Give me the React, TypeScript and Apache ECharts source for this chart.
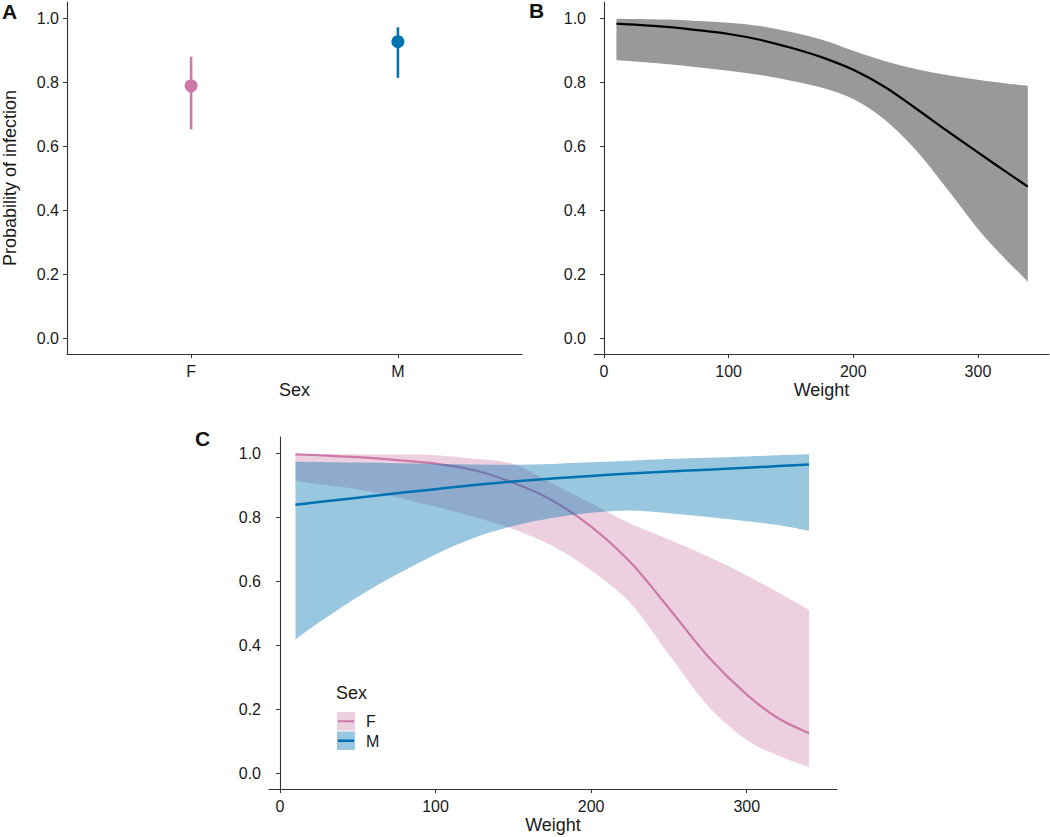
import React, { useEffect, useRef } from "react";
import * as echarts from "echarts";

// ---------- data ----------
const SEX = ["F", "M"];
const SEX_COLORS = ["#CC79A7", "#0072B2"];
const SEX_FILLS = ["rgba(204,121,167,0.35)", "rgba(0,114,178,0.4)"];

// Panel A: predicted probability by sex with 95% interval
const probA = [0.788, 0.926];
const lowA = [0.652, 0.813];
const highA = [0.879, 0.971];

// Shared weight grid for the fitted curves
const weights = [10, 25, 50, 75, 100, 125, 150, 175, 200, 225, 250, 275, 300, 320, 340];

// Panel B: overall fit
const bFit = [0.982, 0.979, 0.972, 0.962, 0.95, 0.932, 0.907, 0.877, 0.838, 0.785, 0.718, 0.648, 0.58, 0.526, 0.473];
const bUpper = [0.998, 0.997, 0.995, 0.991, 0.985, 0.975, 0.956, 0.932, 0.898, 0.866, 0.841, 0.822, 0.807, 0.797, 0.788];
const bLower = [0.868, 0.864, 0.856, 0.846, 0.835, 0.822, 0.804, 0.782, 0.747, 0.683, 0.588, 0.467, 0.341, 0.255, 0.176];

// Panel C: fit by sex
const fFit = [0.996, 0.993, 0.987, 0.978, 0.967, 0.946, 0.907, 0.852, 0.77, 0.66, 0.515, 0.365, 0.245, 0.172, 0.124];
const fUpper = [0.997, 0.997, 0.996, 0.995, 0.993, 0.982, 0.966, 0.905, 0.843, 0.78, 0.73, 0.677, 0.617, 0.565, 0.51];
const fLower = [0.913, 0.902, 0.886, 0.862, 0.832, 0.8, 0.762, 0.71, 0.633, 0.532, 0.37, 0.21, 0.103, 0.055, 0.018];
const mFit = [0.838, 0.847, 0.86, 0.874, 0.887, 0.9, 0.911, 0.92, 0.928, 0.936, 0.942, 0.948, 0.954, 0.959, 0.964];
const mUpper = [0.973, 0.972, 0.97, 0.968, 0.966, 0.964, 0.963, 0.966, 0.971, 0.976, 0.981, 0.985, 0.989, 0.993, 0.996];
const mLower = [0.417, 0.47, 0.55, 0.62, 0.683, 0.735, 0.772, 0.797, 0.813, 0.82, 0.812, 0.8, 0.787, 0.775, 0.757];

const yTicks = [0, 0.2, 0.4, 0.6, 0.8, 1.0];
const weightTicks = [0, 100, 200, 300];
const sexTicks = [1, 2];

// ---------- helpers ----------
const FONT = "Liberation Sans, Arial, Helvetica, sans-serif";
const AXIS_COLOR = "#333";
const TEXT_COLOR = "#1a1a1a";

function yAxisCfg(gridIndex: number, name?: string) {
  return {
    type: "value",
    gridIndex,
    min: -0.05,
    max: 1.05,
    name: name || "",
    nameLocation: "middle",
    nameGap: 48,
    nameRotate: 90,
    nameTextStyle: { fontSize: 18, color: TEXT_COLOR, fontFamily: FONT },
    axisLine: { show: true, lineStyle: { color: AXIS_COLOR, width: 1.1 } },
    axisTick: { show: true, length: 4, customValues: yTicks, lineStyle: { color: AXIS_COLOR } },
    axisLabel: {
      customValues: yTicks,
      margin: 8,
      fontSize: 16,
      color: TEXT_COLOR,
      fontFamily: FONT,
      formatter: (v: number) => v.toFixed(1),
    },
    splitLine: { show: false },
  };
}

function xAxisCfg(gridIndex: number, min: number, max: number, ticks: number[], name: string, fmt: (v: number) => string) {
  return {
    type: "value",
    gridIndex,
    min,
    max,
    name,
    nameLocation: "middle",
    nameGap: 27,
    nameTextStyle: { fontSize: 18, color: TEXT_COLOR, fontFamily: FONT },
    axisLine: { show: true, onZero: false, lineStyle: { color: AXIS_COLOR, width: 1.1 } },
    axisTick: { show: true, length: 4, customValues: ticks, lineStyle: { color: AXIS_COLOR } },
    axisLabel: {
      customValues: ticks,
      margin: 9,
      fontSize: 16,
      color: TEXT_COLOR,
      fontFamily: FONT,
      formatter: fmt,
    },
    splitLine: { show: false },
  };
}

// Catmull-Rom -> cubic Bezier segments through pixel points (after the start point)
function curveThrough(pts: number[][]): string {
  let d = "";
  const n = pts.length;
  for (let i = 0; i < n - 1; i++) {
    const p0 = pts[Math.max(i - 1, 0)];
    const p1 = pts[i];
    const p2 = pts[i + 1];
    const p3 = pts[Math.min(i + 2, n - 1)];
    const c1x = p1[0] + (p2[0] - p0[0]) / 6;
    const c1y = p1[1] + (p2[1] - p0[1]) / 6;
    const c2x = p2[0] - (p3[0] - p1[0]) / 6;
    const c2y = p2[1] - (p3[1] - p1[1]) / 6;
    d += ` C${c1x.toFixed(2)},${c1y.toFixed(2)} ${c2x.toFixed(2)},${c2y.toFixed(2)} ${p2[0].toFixed(2)},${p2[1].toFixed(2)}`;
  }
  return d;
}

function bandSeries(axisIndex: number, lower: number[], upper: number[], fill: string) {
  return {
    type: "custom",
    xAxisIndex: axisIndex,
    yAxisIndex: axisIndex,
    silent: true,
    clip: true,
    data: weights.map((w, i) => [w, lower[i], upper[i]]),
    encode: { x: 0, y: [1, 2] },
    renderItem: (params: any, api: any) => {
      if (params.dataIndex !== 0) return null;
      const up = weights.map((w, i) => api.coord([w, upper[i]]));
      const lo = weights.map((w, i) => api.coord([w, lower[i]])).reverse();
      const d =
        `M${up[0][0]},${up[0][1]}` +
        curveThrough(up) +
        ` L${lo[0][0]},${lo[0][1]}` +
        curveThrough(lo) +
        " Z";
      return { type: "path", shape: { pathData: d }, style: { fill, stroke: null } };
    },
  };
}

function fitSeries(axisIndex: number, values: number[], color: string, width: number) {
  return {
    type: "custom",
    xAxisIndex: axisIndex,
    yAxisIndex: axisIndex,
    silent: true,
    clip: true,
    data: weights.map((w, i) => [w, values[i]]),
    encode: { x: 0, y: 1 },
    renderItem: (params: any, api: any) => {
      if (params.dataIndex !== 0) return null;
      const pts = weights.map((w, i) => api.coord([w, values[i]]));
      const d = `M${pts[0][0]},${pts[0][1]}` + curveThrough(pts);
      return {
        type: "path",
        shape: { pathData: d },
        style: { fill: null, stroke: color, lineWidth: width, lineJoin: "round" },
      };
    },
  };
}

export default function App() {
  const ref = useRef<HTMLDivElement>(null);

  useEffect(() => {
    if (!ref.current) return;
    const chart = echarts.init(ref.current, undefined, { renderer: "svg" });

    const option: any = {
      animation: false,
      backgroundColor: "#fff",
      textStyle: { fontFamily: FONT },
      grid: [
        { left: 67, top: 2, width: 455, height: 352, containLabel: false },
        { left: 594, top: 2, width: 455, height: 352, containLabel: false },
        { left: 269, top: 437, width: 568, height: 352, containLabel: false },
      ],
      xAxis: [
        xAxisCfg(0, 0.4, 2.6, sexTicks, "Sex", (v: number) => SEX[Math.round(v) - 1] ?? ""),
        xAxisCfg(1, -8, 357, weightTicks, "Weight", (v: number) => String(v)),
        xAxisCfg(2, -7, 358, weightTicks, "Weight", (v: number) => String(v)),
      ],
      yAxis: [yAxisCfg(0, "Probability of infection"), yAxisCfg(1), yAxisCfg(2)],
      series: [
        // Panel A
        {
          type: "custom",
          xAxisIndex: 0,
          yAxisIndex: 0,
          data: SEX.map((s, i) => [i + 1, probA[i], lowA[i], highA[i]]),
          encode: { x: 0, y: [1, 2, 3] },
          renderItem: (params: any, api: any) => {
            const x = api.value(0);
            const top = api.coord([x, api.value(3)]);
            const bot = api.coord([x, api.value(2)]);
            const c = api.coord([x, api.value(1)]);
            const color = SEX_COLORS[params.dataIndex];
            return {
              type: "group",
              children: [
                {
                  type: "line",
                  shape: { x1: top[0], y1: top[1], x2: bot[0], y2: bot[1] },
                  style: { stroke: color, lineWidth: 2.6 },
                },
                {
                  type: "circle",
                  shape: { cx: c[0], cy: c[1], r: 6.5 },
                  style: { fill: color },
                },
              ],
            };
          },
        },
        // Panel B
        bandSeries(1, bLower, bUpper, "#999999"),
        fitSeries(1, bFit, "#000000", 2.2),
        // Panel C
        bandSeries(2, fLower, fUpper, SEX_FILLS[0]),
        fitSeries(2, fFit, SEX_COLORS[0], 2.2),
        bandSeries(2, mLower, mUpper, SEX_FILLS[1]),
        fitSeries(2, mFit, SEX_COLORS[1], 2.5),
      ],
      graphic: [
        { type: "text", left: 2, top: 1, style: { text: "A", font: `bold 21px ${FONT}`, fill: "#111" } },
        { type: "text", left: 529, top: 0, style: { text: "B", font: `bold 21px ${FONT}`, fill: "#111" } },
        { type: "text", left: 195, top: 428, style: { text: "C", font: `bold 21px ${FONT}`, fill: "#111" } },
        // Legend for panel C
        { type: "text", left: 336, top: 684, style: { text: "Sex", font: `18px ${FONT}`, fill: TEXT_COLOR } },
        ...SEX.flatMap((s, i) => {
          const y0 = 712 + i * 19.5;
          return [
            { type: "rect", shape: { x: 337, y: y0, width: 18, height: 18.5 }, style: { fill: SEX_FILLS[i] } },
            {
              type: "line",
              shape: { x1: 338, y1: y0 + 9.25, x2: 354, y2: y0 + 9.25 },
              style: { stroke: SEX_COLORS[i], lineWidth: i === 0 ? 2 : 2.6 },
            },
            {
              type: "text",
              x: 366,
              y: y0 + 9.5,
              style: { text: s, font: `16px ${FONT}`, fill: TEXT_COLOR, textVerticalAlign: "middle" },
            },
          ];
        }),
      ],
    };

    chart.setOption(option);
    return () => chart.dispose();
  }, []);

  return (
    <div
      ref={ref}
      style={{ position: "fixed", left: 0, top: 0, width: 1050, height: 837, background: "#fff" }}
    />
  );
}
